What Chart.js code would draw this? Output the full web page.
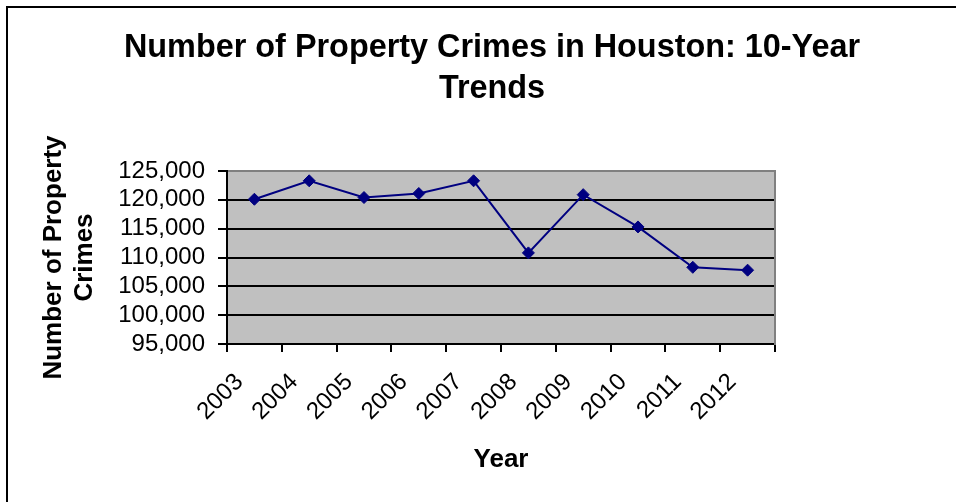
<!DOCTYPE html>
<html>
<head>
<meta charset="utf-8">
<title>Number of Property Crimes in Houston</title>
<script src="https://cdn.jsdelivr.net/npm/chart.js@4.4.1/dist/chart.umd.min.js"></script>
<style>
  html, body { margin: 0; padding: 0; background: #fff; overflow: hidden; }
  #wrap { width: 956px; height: 502px; }
</style>
</head>
<body>
<div id="wrap"><canvas id="chart" width="956" height="502"></canvas></div>
<script>
// Houston property crimes by year
const years = ['2003', '2004', '2005', '2006', '2007', '2008', '2009', '2010', '2011', '2012'];
const propertyCrimes = [120100, 123300, 120400, 121100, 123300, 110800, 120900, 115300, 108300, 107800];

// Value axis range and tick spacing
const yMin = 95000;
const yMax = 125000;
const yStep = 5000;

const chartTitle = ['Number of Property Crimes in Houston: 10-Year', 'Trends'];
const yTitle = ['Number of Property', 'Crimes'];
const xTitle = 'Year';

const FONT = "'Liberation Sans', Arial, Helvetica, sans-serif";

// Grey plot background behind the grid
const plotBackground = {
  id: 'plotBackground',
  beforeDraw(chart) {
    const { ctx, chartArea: a } = chart;
    ctx.save();
    ctx.fillStyle = '#C0C0C0';
    ctx.fillRect(a.left, a.top, a.right - a.left, a.bottom - a.top);
    ctx.restore();
  }
};

// Outer frame around the whole chart
const outerFrame = {
  id: 'outerFrame',
  afterDraw(chart) {
    const { ctx } = chart;
    ctx.save();
    ctx.strokeStyle = '#000';
    ctx.lineWidth = 2;
    ctx.strokeRect(7, 7, chart.width + 20, chart.height + 20);
    ctx.restore();
  }
};

new Chart(document.getElementById('chart'), {
  type: 'line',
  data: {
    labels: years,
    datasets: [{
      data: propertyCrimes,
      borderColor: '#000080',
      borderWidth: 2,
      backgroundColor: '#000080',
      pointBackgroundColor: '#000080',
      pointBorderColor: '#000080',
      pointBorderWidth: 1,
      pointStyle: 'rectRot',
      pointRadius: 6,
      tension: 0,
      fill: false
    }]
  },
  options: {
    responsive: false,
    animation: false,
    events: [],
    layout: { padding: { left: 28, right: 0, top: 0, bottom: 0 } },
    plugins: {
      legend: { display: false },
      tooltip: { enabled: false },
      title: {
        display: true,
        text: chartTitle,
        color: '#000',
        font: { family: FONT, size: 32.4, weight: 'bold', lineHeight: 1.25 },
        padding: { top: 28, bottom: 62 }
      }
    },
    scales: {
      x: {
        type: 'category',
        offset: true,
        afterFit(scale) { scale.height = 158; },
        grid: {
          display: true,
          offset: true,
          drawOnChartArea: false,
          drawTicks: true,
          tickLength: 8,
          color: '#000',
          lineWidth: 2
        },
        border: { display: true, color: '#000', width: 2 },
        ticks: {
          autoSkip: false,
          minRotation: 45,
          maxRotation: 45,
          padding: 16,
          labelOffset: -15,
          color: '#000',
          font: { family: FONT, size: 24 }
        },
        title: {
          display: true,
          text: xTitle,
          color: '#000',
          font: { family: FONT, size: 26, weight: 'bold', lineHeight: 1.2 },
          padding: { top: 0, bottom: 27 }
        }
      },
      y: {
        position: 'left',
        min: yMin,
        max: yMax,
        afterFit(scale) { scale.width = 199; },
        grid: {
          color: (c) => (c.tick && c.tick.value === yMax ? '#808080' : '#000'),
          lineWidth: 2,
          tickColor: '#000',
          tickLength: 9,
          drawTicks: true
        },
        border: { display: true, color: '#000', width: 2 },
        ticks: {
          stepSize: yStep,
          autoSkip: false,
          padding: 13,
          color: '#000',
          font: { family: FONT, size: 24, lineHeight: 1 },
          callback: (v) => Number(v).toLocaleString('en-US')
        },
        title: {
          display: true,
          text: yTitle,
          color: '#000',
          font: { family: FONT, size: 26, weight: 'bold', lineHeight: 1.2 },
          padding: { top: 10, bottom: 0 }
        }
      },
      // right-hand edge of the plot frame
      yRight: {
        position: 'right',
        display: true,
        afterFit(scale) { scale.width = 181; },
        grid: { display: false, drawTicks: false },
        border: { display: true, color: '#808080', width: 2 },
        ticks: { display: false },
        title: { display: false }
      }
    }
  },
  plugins: [plotBackground, outerFrame]
});
</script>
</body>
</html>
